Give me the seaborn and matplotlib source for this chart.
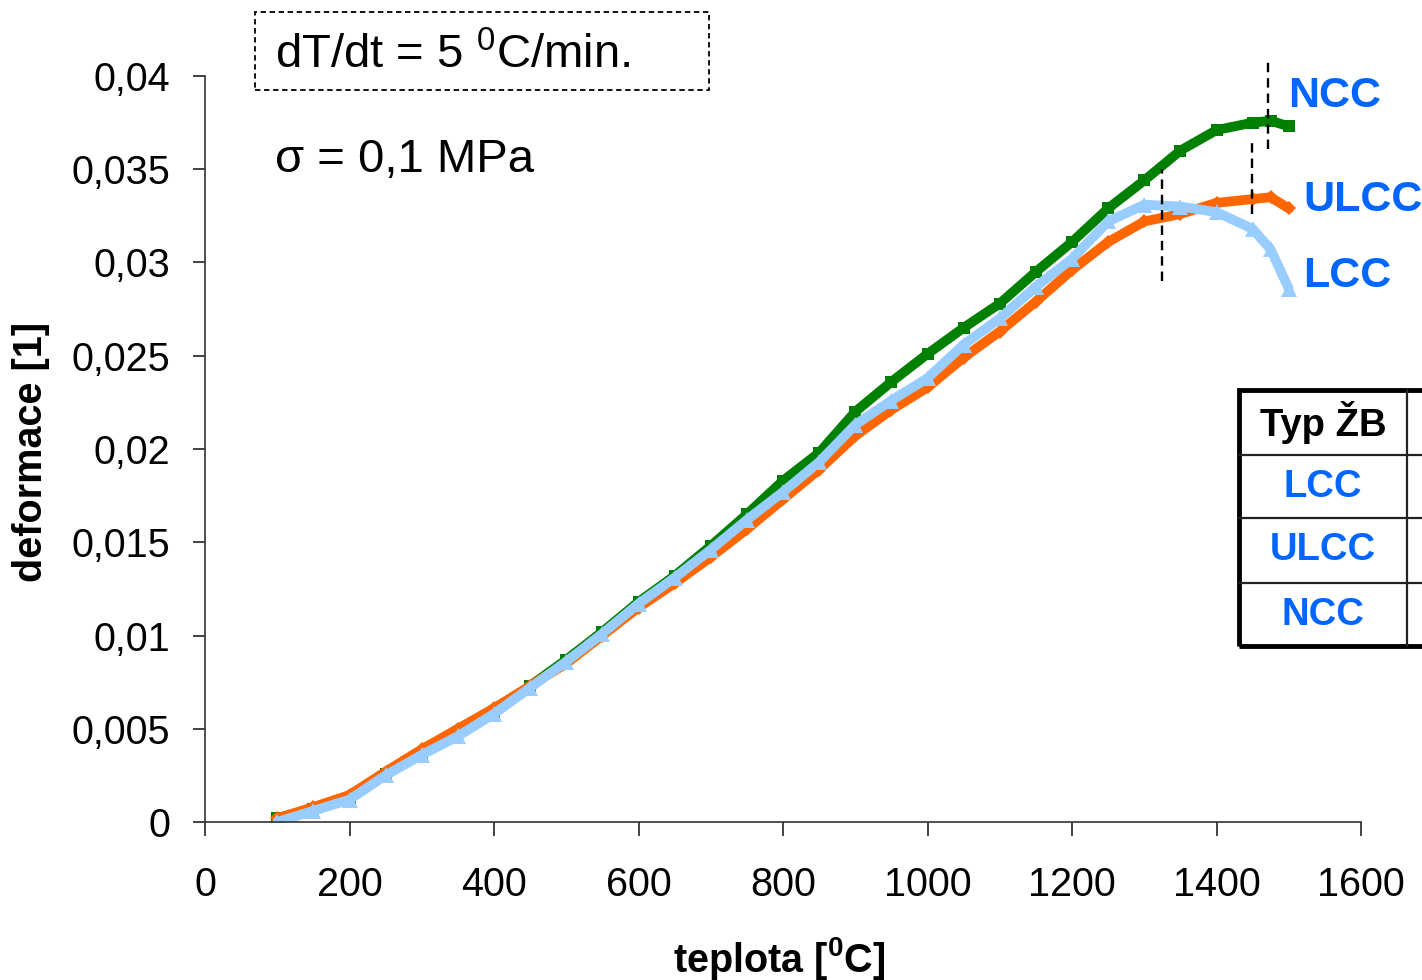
import numpy as np
import pandas as pd
import matplotlib
matplotlib.use("Agg")
import matplotlib.pyplot as plt
from matplotlib.ticker import FuncFormatter, MultipleLocator
from matplotlib.patches import Rectangle
import seaborn as sns

sns.set_style("white")
plt.rcParams['font.family'] = ['Liberation Sans', 'DejaVu Sans']
plt.rcParams['mathtext.fontset'] = 'custom'
plt.rcParams['mathtext.rm'] = 'Liberation Sans'
plt.rcParams['mathtext.bf'] = 'Liberation Sans:bold'
for k in ['text.color', 'axes.labelcolor', 'xtick.color', 'ytick.color']:
    plt.rcParams[k] = 'black'

# temperature [C]
teplota = [100, 150, 200, 250, 300, 350, 400, 450, 500, 550, 600, 650, 700, 750,
           800, 850, 900, 950, 1000, 1050, 1100, 1150, 1200, 1250, 1300, 1350,
           1400, 1450, 1475, 1500]

ncc = [0.0002, 0.0007, 0.0013, 0.0026, 0.0037, 0.0048, 0.0059, 0.0073, 0.0087, 0.0102,
       0.0118, 0.0132, 0.0148, 0.0165, 0.0183, 0.0198, 0.0220, 0.0236, 0.0251, 0.0265,
       0.0278, 0.0295, 0.0311, 0.0329, 0.0344, 0.0360, 0.0371, 0.0375, 0.0376, 0.0373]

ulcc = [0.0002, 0.0008, 0.00145, 0.0027, 0.0039, 0.0050, 0.0061, 0.0073, 0.0085, 0.0100,
        0.0115, 0.0128, 0.0142, 0.0157, 0.0173, 0.0189, 0.0207, 0.0221, 0.0233, 0.0249,
        0.0263, 0.0279, 0.0296, 0.0311, 0.0322, 0.0326, 0.0332, 0.0334, 0.0335, 0.0329]

lcc = [0.0, 0.0006, 0.0012, 0.0025, 0.0036, 0.0046, 0.0058, 0.0072, 0.0086, 0.0101,
       0.0117, 0.0131, 0.0146, 0.0162, 0.0177, 0.0193, 0.0213, 0.0226, 0.0238, 0.0256,
       0.0270, 0.0287, 0.0302, 0.0322, 0.0331, 0.0330, 0.0327, 0.0318, 0.0307, 0.0286]

# dashed markers: (T, y_from, y_to)
markery = [(1325, 0.0290, 0.0350), (1449, 0.0326, 0.0366), (1471, 0.0361, 0.0410)]

serie = ['NCC', 'ULCC', 'LCC']
barvy = {'NCC': '#008000', 'ULCC': '#FF6600', 'LCC': '#99CCFF'}
znacky = {'NCC': 's', 'ULCC': 'D', 'LCC': '^'}
velikosti = {'NCC': 9, 'ULCC': 7, 'LCC': 12}

df = pd.DataFrame({'teplota': teplota, 'NCC': ncc, 'ULCC': ulcc, 'LCC': lcc})

fig = plt.figure(figsize=(14.22, 9.8), dpi=100)
ax = fig.add_axes([205/1422, 158/980, 1156/1422, 746/980])

for s in serie:
    sns.lineplot(data=df, x='teplota', y=s, ax=ax, color=barvy[s], lw=7,
                 marker=znacky[s], markersize=velikosti[s], markeredgewidth=0,
                 label=None)

for t, y0, y1 in markery:
    ax.plot([t, t], [y0, y1], color='black', ls=(0, (4, 2.5)), lw=1.7, clip_on=False)

ax.set_xlim(0, 1600)
ax.set_ylim(0, 0.04)
ax.xaxis.set_major_locator(MultipleLocator(200))
ax.yaxis.set_major_locator(MultipleLocator(0.005))
ax.yaxis.set_major_formatter(FuncFormatter(lambda v, p: '{:g}'.format(round(v, 4)).replace('.', ',')))
ax.tick_params(axis='x', direction='out', length=10, width=1.2, pad=22, labelsize=28.5, color='#222222')
ax.tick_params(axis='y', direction='out', length=9, width=1.2, pad=16, labelsize=28.5, color='#222222')
ax.tick_params(bottom=True, left=True)
for sp in ['top', 'right']:
    ax.spines[sp].set_visible(False)
for sp in ['left', 'bottom']:
    ax.spines[sp].set_color('#333333')
    ax.spines[sp].set_linewidth(1.2)

ax.set_xlabel(r'teplota [$^{\mathbf{0}}$C]', fontsize=28.5, fontweight='bold')
ax.xaxis.set_label_coords(0.497, -0.152)
ax.set_ylabel('deformace [1]', fontsize=28.5, fontweight='bold')
ax.yaxis.set_label_coords(-0.134, 0.496)
if ax.get_legend() is not None:
    ax.get_legend().remove()

# annotations
fig.add_artist(Rectangle((255/1422, 1 - 90/980), 454/1422, 78/980, fill=False, ec='black',
                         ls=(0, (3, 2)), lw=1.3, transform=fig.transFigure))
fig.text(275/1422, 1 - 56/980, r'dT/dt = 5 $^{0}$C/min.', fontsize=34, va='center', ha='left')
fig.text(275/1422, 1 - 160/980, 'σ = 0,1 MPa', fontsize=34, va='center', ha='left')

modra = '#0066FF'
for s, (xp, yp) in zip(serie, [(1288, 96), (1303, 200), (1303, 276)]):
    fig.text(xp/1422, 1 - yp/980, s, fontsize=31, fontweight='bold', color=modra,
             va='center', ha='left')

# table on the right edge (cut off)
x0, x1, xc = 1239, 1440, 1407
radky = [390, 455, 518, 583, 646]
for i in range(1, 4):
    fig.add_artist(plt.Line2D([x0/1422, 1], [1 - radky[i]/980] * 2, color='#222222', lw=1.6))
fig.add_artist(plt.Line2D([xc/1422] * 2, [1 - radky[0]/980, 1 - radky[-1]/980], color='#222222', lw=1.6))
fig.add_artist(Rectangle((x0/1422, 1 - radky[-1]/980), (x1 - x0)/1422, (radky[-1] - radky[0])/980,
                         fill=False, ec='black', lw=3.5, transform=fig.transFigure))
bunky = ['Typ ŽB', 'LCC', 'ULCC', 'NCC']
for i, b in enumerate(bunky):
    yc = (radky[i] + radky[i + 1]) / 2
    fig.text((x0 + xc) / 2 / 1422, 1 - yc/980, b, fontsize=27.5, fontweight='bold',
             color='black' if i == 0 else modra, ha='center', va='center')

fig.savefig('out.png', dpi=100)
